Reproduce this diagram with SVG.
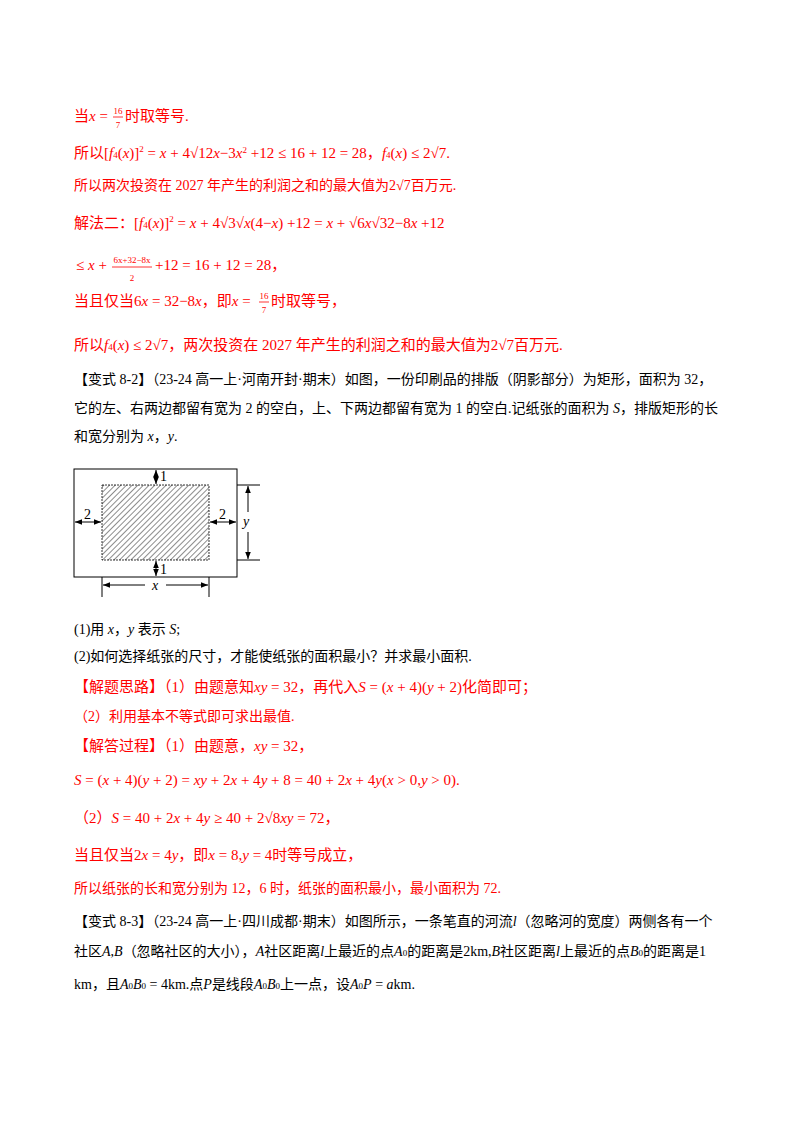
<svg xmlns="http://www.w3.org/2000/svg" width="800" height="1132" viewBox="0 0 800 1132">
<style>
text{font-family:"Liberation Serif","Noto Sans CJK SC",serif;font-size:14px;fill:#000}
.r{fill:#ff0000}
.m{font-size:15px}
.i{font-style:italic}
.s{font-size:9px}
.ln{stroke:#000;stroke-width:1;fill:none}
.rl{stroke:#ff0000;stroke-width:0.8;fill:none}
</style>
<defs>
<pattern id="h" width="4" height="4" patternUnits="userSpaceOnUse" patternTransform="rotate(45)">
<line x1="0" y1="0" x2="0" y2="4" stroke="#000" stroke-width="0.9"/>
</pattern>
<marker id="a" viewBox="0 0 10 10" refX="10" refY="5" markerWidth="7" markerHeight="7" orient="auto-start-reverse"><path d="M0,1 L10,5 L0,9 Z" fill="#000"/></marker>
</defs>
<rect width="800" height="1132" fill="#fff"/>
<g id="text">
<text x="74" y="121" class="r m">当<tspan class="i">x</tspan> =</text>
<text x="118" y="114" class="r s" text-anchor="middle">16</text>
<text x="118" y="128" class="r s" text-anchor="middle">7</text>
<line x1="113" y1="117" x2="123" y2="117" class="rl"/>
<text x="125" y="121" class="r m">时取等号.</text>
<text x="74" y="158" class="r m">所以[<tspan class="i">f</tspan><tspan class="s">4</tspan>(<tspan class="i">x</tspan>)]<tspan class="s" dy="-6">2</tspan><tspan dy="6"> = </tspan><tspan class="i">x</tspan> + 4√12<tspan class="i">x</tspan>−3<tspan class="i">x</tspan><tspan class="s" dy="-5">2</tspan><tspan dy="5"> +12 ≤ 16 + 12 = 28，</tspan><tspan class="i">f</tspan><tspan class="s">4</tspan>(<tspan class="i">x</tspan>) ≤ 2√7.</text>
<text x="74" y="190" class="r">所以两次投资在 2027 年产生的利润之和的最大值为2√7百万元.</text>
<text x="74" y="228" class="r m">解法二：[<tspan class="i">f</tspan><tspan class="s">4</tspan>(<tspan class="i">x</tspan>)]<tspan class="s" dy="-6">2</tspan><tspan dy="6"> = </tspan><tspan class="i">x</tspan> + 4√3√<tspan class="i">x</tspan>(4−<tspan class="i">x</tspan>) +12 = <tspan class="i">x</tspan> + √6<tspan class="i">x</tspan>√32−8<tspan class="i">x</tspan> +12</text>
<text x="76" y="270" class="r m">≤ <tspan class="i">x</tspan> +</text>
<text x="132" y="263" class="r s" text-anchor="middle">6x+32−8x</text>
<text x="132" y="281" class="r s" text-anchor="middle">2</text>
<line x1="112" y1="267" x2="152" y2="267" class="rl"/>
<text x="155" y="270" class="r m">+12 = 16 + 12 = 28，</text>
<text x="74" y="306" class="r m">当且仅当6<tspan class="i">x</tspan> = 32−8<tspan class="i">x</tspan>，即<tspan class="i">x</tspan> =</text>
<text x="264" y="299" class="r s" text-anchor="middle">16</text>
<text x="264" y="313" class="r s" text-anchor="middle">7</text>
<line x1="259" y1="302" x2="269" y2="302" class="rl"/>
<text x="271" y="306" class="r m">时取等号，</text>
<text x="74" y="350" class="r m">所以<tspan class="i">f</tspan><tspan class="s">4</tspan>(<tspan class="i">x</tspan>) ≤ 2√7，两次投资在 2027 年产生的利润之和的最大值为2√7百万元.</text>
<text x="74" y="384">【变式 8-2】（23-24 高一上·河南开封·期末）如图，一份印刷品的排版（阴影部分）为矩形，面积为 32，</text>
<text x="74" y="413">它的左、右两边都留有宽为 2 的空白，上、下两边都留有宽为 1 的空白.记纸张的面积为 <tspan class="i">S</tspan>，排版矩形的长</text>
<text x="74" y="441">和宽分别为 <tspan class="i">x</tspan>，<tspan class="i">y</tspan>.</text>
<text x="74" y="634">(1)用 <tspan class="i">x</tspan>，<tspan class="i">y</tspan> 表示 <tspan class="i">S</tspan>;</text>
<text x="74" y="661">(2)如何选择纸张的尺寸，才能使纸张的面积最小？并求最小面积.</text>
<text x="74" y="692" class="r m">【解题思路】（1）由题意知<tspan class="i">xy</tspan> = 32，再代入<tspan class="i">S</tspan> = (<tspan class="i">x</tspan> + 4)(<tspan class="i">y</tspan> + 2)化简即可；</text>
<text x="74" y="721" class="r">（2）利用基本不等式即可求出最值.</text>
<text x="74" y="751" class="r m">【解答过程】（1）由题意，<tspan class="i">xy</tspan> = 32，</text>
<text x="74" y="785" class="r m"><tspan class="i">S</tspan> = (<tspan class="i">x</tspan> + 4)(<tspan class="i">y</tspan> + 2) = <tspan class="i">xy</tspan> + 2<tspan class="i">x</tspan> + 4<tspan class="i">y</tspan> + 8 = 40 + 2<tspan class="i">x</tspan> + 4<tspan class="i">y</tspan>(<tspan class="i">x</tspan> &gt; 0,<tspan class="i">y</tspan> &gt; 0).</text>
<text x="74" y="823" class="r m">（2）<tspan class="i">S</tspan> = 40 + 2<tspan class="i">x</tspan> + 4<tspan class="i">y</tspan> ≥ 40 + 2√8<tspan class="i">xy</tspan> = 72，</text>
<text x="74" y="860" class="r m">当且仅当2<tspan class="i">x</tspan> = 4<tspan class="i">y</tspan>，即<tspan class="i">x</tspan> = 8,<tspan class="i">y</tspan> = 4时等号成立，</text>
<text x="74" y="893" class="r">所以纸张的长和宽分别为 12，6 时，纸张的面积最小，最小面积为 72.</text>
<text x="74" y="926">【变式 8-3】（23-24 高一上·四川成都·期末）如图所示，一条笔直的河流<tspan class="i">l</tspan>（忽略河的宽度）两侧各有一个</text>
<text x="74" y="956">社区<tspan class="i">A</tspan>,<tspan class="i">B</tspan>（忽略社区的大小），<tspan class="i">A</tspan>社区距离<tspan class="i">l</tspan>上最近的点<tspan class="i">A</tspan><tspan class="s">0</tspan>的距离是2km,<tspan class="i">B</tspan>社区距离<tspan class="i">l</tspan>上最近的点<tspan class="i">B</tspan><tspan class="s">0</tspan>的距离是1</text>
<text x="74" y="989">km，且<tspan class="i">A</tspan><tspan class="s">0</tspan><tspan class="i">B</tspan><tspan class="s">0</tspan> = 4km.点<tspan class="i">P</tspan>是线段<tspan class="i">A</tspan><tspan class="s">0</tspan><tspan class="i">B</tspan><tspan class="s">0</tspan>上一点，设<tspan class="i">A</tspan><tspan class="s">0</tspan><tspan class="i">P</tspan> = <tspan class="i">a</tspan>km.</text>
</g>
<g id="figure">
<rect x="74" y="469" width="163" height="108" class="ln"/>
<rect x="102" y="485" width="107" height="75" fill="url(#h)" stroke="#000" stroke-width="0.8" stroke-dasharray="2,1"/>
<g id="connectors">
<line x1="156" y1="470" x2="156" y2="484" class="ln" marker-start="url(#a)" marker-end="url(#a)"/>
<line x1="156" y1="561" x2="156" y2="576" class="ln" marker-start="url(#a)" marker-end="url(#a)"/>
<line x1="75" y1="522" x2="101" y2="522" class="ln" marker-start="url(#a)" marker-end="url(#a)"/>
<line x1="210" y1="522" x2="236" y2="522" class="ln" marker-start="url(#a)" marker-end="url(#a)"/>
<line x1="237" y1="485" x2="260" y2="485" class="ln"/>
<line x1="237" y1="560" x2="260" y2="560" class="ln"/>
<line x1="248" y1="486" x2="248" y2="512" class="ln" marker-start="url(#a)"/>
<line x1="248" y1="532" x2="248" y2="559" class="ln" marker-end="url(#a)"/>
<line x1="102" y1="577" x2="102" y2="597" class="ln"/>
<line x1="209" y1="577" x2="209" y2="597" class="ln"/>
<line x1="103" y1="585" x2="145" y2="585" class="ln" marker-start="url(#a)"/>
<line x1="166" y1="585" x2="208" y2="585" class="ln" marker-end="url(#a)"/>
</g>
<text x="160" y="481">1</text>
<text x="160" y="574">1</text>
<text x="84" y="519">2</text>
<text x="219" y="519">2</text>
<text x="243" y="526" class="i">y</text>
<text x="152" y="590" class="i">x</text>
</g>
</svg>
